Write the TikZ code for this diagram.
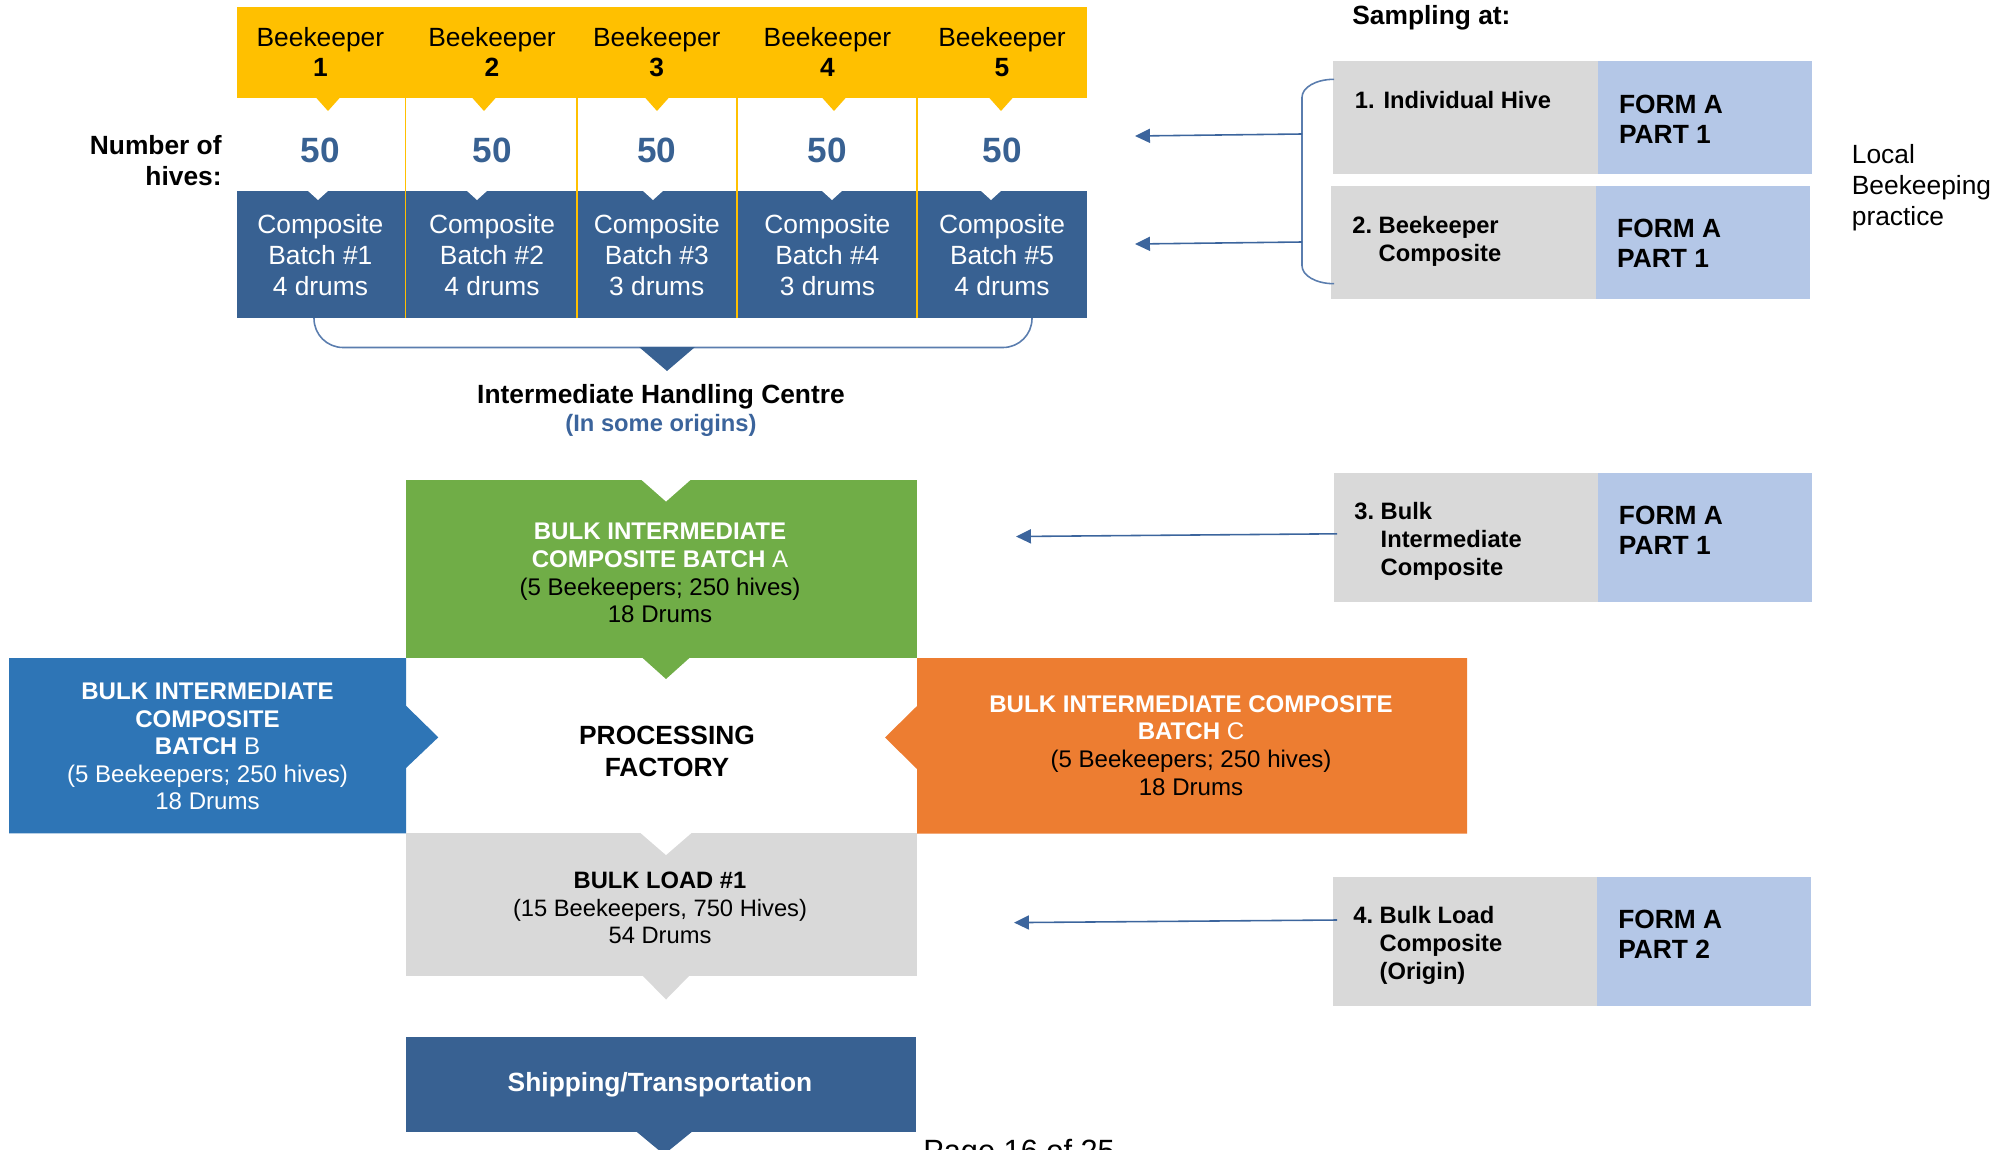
\documentclass[tikz,border=0pt]{standalone}
\usepackage{fontspec}
\setmainfont{Liberation Sans}
\usetikzlibrary{arrows.meta}
\definecolor{yel}{HTML}{FFC000}
\definecolor{dblue}{HTML}{386192}
\definecolor{grn}{HTML}{70AD47}
\definecolor{bblue}{HTML}{2E75B6}
\definecolor{orng}{HTML}{ED7D31}
\definecolor{lgray}{HTML}{D9D9D9}
\definecolor{lblue}{HTML}{B4C7E7}
\definecolor{brc}{HTML}{5A7DAE}
\definecolor{arrc}{HTML}{3C659D}
\definecolor{ltxt}{HTML}{3B649C}
\newcommand\myfs[2]{\fontsize{#1}{#2}\selectfont}
\begin{document}
\begin{tikzpicture}[x=0.02cm,y=-0.02cm,
  t/.style={inner sep=0pt, align=center},
  tw/.style={inner sep=0pt, anchor=west, align=left},
  samparrow/.style={draw=arrc, line width=0.9pt, -{Triangle[length=8.5pt,width=8pt]}},
  bracestyle/.style={draw=brc, line width=0.9pt}]
\useasboundingbox (0,0) rectangle (2013,1149);

% ---------- top banner ----------
\fill[yel] (237,7) rectangle (1087,98);
\foreach \c in {328,484,657,834,1001}
  \fill[yel] (\c-12.5,97) -- (\c+12.5,97) -- (\c,111) -- cycle;
\fill[dblue] (237,191) rectangle (1087,318);
\foreach \c in {318,477,653,832,991}
  \fill[white] (\c-11,190) -- (\c+11,190) -- (\c,200) -- cycle;
\foreach \x in {405.5,577,737,917}
  \draw[yel, line width=0.8pt] (\x,98) -- (\x,318);

\node[t, font=\myfs{15}{17.1}] (bk1) at (320.4,51.7) {Beekeeper\\\textbf{1}};
\node[t, font=\myfs{15}{17.1}] (bk2) at (492,51.7) {Beekeeper\\\textbf{2}};
\node[t, font=\myfs{15}{17.1}] (bk3) at (656.8,51.7) {Beekeeper\\\textbf{3}};
\node[t, font=\myfs{15}{17.1}] (bk4) at (827.4,51.7) {Beekeeper\\\textbf{4}};
\node[t, font=\myfs{15}{17.1}] (bk5) at (1002,51.7) {Beekeeper\\\textbf{5}};

\node[t, align=right, anchor=east, font=\bfseries\myfs{15}{17.6}] (noh) at (222,161) {Number of\\hives:};
\node[t, font=\bfseries\myfs{20}{24}, text=dblue] (h1) at (320.4,150) {50};
\node[t, font=\bfseries\myfs{20}{24}, text=dblue] (h2) at (492,150) {50};
\node[t, font=\bfseries\myfs{20}{24}, text=dblue] (h3) at (656.8,150) {50};
\node[t, font=\bfseries\myfs{20}{24}, text=dblue] (h4) at (827.4,150) {50};
\node[t, font=\bfseries\myfs{20}{24}, text=dblue] (h5) at (1002,150) {50};

\node[t, text=white, font=\myfs{15}{17.5}] (cb1) at (320.4,255) {Composite\\Batch \#1\\4 drums};
\node[t, text=white, font=\myfs{15}{17.5}] (cb2) at (492,255) {Composite\\Batch \#2\\4 drums};
\node[t, text=white, font=\myfs{15}{17.5}] (cb3) at (656.8,255) {Composite\\Batch \#3\\3 drums};
\node[t, text=white, font=\myfs{15}{17.5}] (cb4) at (827.4,255) {Composite\\Batch \#4\\3 drums};
\node[t, text=white, font=\myfs{15}{17.5}] (cb5) at (1002,255) {Composite\\Batch \#5\\4 drums};

% brace and pointer
\draw[bracestyle, rounded corners=0.58cm] (314,318) -- (314,347.5) -- (1032,347.5) -- (1032,318);
\fill[dblue] (639,347) -- (695,347) -- (667,371) -- cycle;
\node[t, font=\bfseries\myfs{15}{18}] (ihc) at (661,397) {Intermediate Handling Centre};
\node[t, font=\bfseries\myfs{13.5}{16}, text=ltxt] (iso) at (661,425) {(In some origins)};

% ---------- batch A (green) ----------
\fill[grn] (405.5,480) rectangle (917,658);
\fill[white] (640.5,479) -- (691.5,479) -- (666,501.5) -- cycle;
\fill[grn] (641.5,657) -- (690.5,657) -- (666,679) -- cycle;
\node[t, font=\myfs{13.7}{15.8}] (ba) at (660,573)
  {{\color{white}\bfseries BULK INTERMEDIATE}\\
   {\color{white}\textbf{COMPOSITE BATCH} A}\\
   (5 Beekeepers; 250 hives)\\18 Drums};

% ---------- batch B (blue) ----------
\fill[bblue] (9,658) -- (406,658) -- (406,705.7) -- (438.3,737.3) -- (406,768) -- (406,833.4) -- (9,833.4) -- cycle;
\node[t, text=white, font=\myfs{13.7}{15.6}] (bb) at (207.5,746.5)
  {{\bfseries BULK INTERMEDIATE}\\
   {\bfseries COMPOSITE}\\
   \textbf{BATCH} B\\
   (5 Beekeepers; 250 hives)\\18 Drums};

% ---------- batch C (orange) ----------
\fill[orng] (917,658) -- (1467,658) -- (1467,833.5) -- (917,833.5) -- (917,769) -- (885,737.5) -- (917,706) -- cycle;
\node[t, font=\myfs{13.7}{15.8}] (bc) at (1191,745.5)
  {{\color{white}\bfseries BULK INTERMEDIATE COMPOSITE}\\
   {\color{white}\textbf{BATCH} C}\\
   (5 Beekeepers; 250 hives)\\18 Drums};

\node[t, font=\bfseries\myfs{15}{18.2}] (pf) at (667,751) {PROCESSING\\FACTORY};

% ---------- bulk load ----------
\fill[lgray] (405.5,833.4) rectangle (917,976);
\fill[white] (640,832.5) -- (692,832.5) -- (666,855) -- cycle;
\fill[lgray] (642,975) -- (690,975) -- (666,999.5) -- cycle;
\node[t, font=\myfs{13.5}{15.8}] (bl) at (660,908)
  {\textbf{BULK LOAD \#1}\\(15 Beekeepers, 750 Hives)\\54 Drums};

% ---------- shipping ----------
\fill[dblue] (405.5,1037) rectangle (916,1132);
\fill[dblue] (635.7,1131) -- (692.9,1131) -- (664,1154.5) -- cycle;
\node[t, text=white, font=\bfseries\myfs{15}{18}] (ship) at (660,1085) {Shipping/Transportation};
\node[inner sep=0pt, anchor=base west, font=\myfs{17.5}{20}] (pg) at (923,1161.5) {Page 16 of 25};

% ---------- sampling side ----------
\node[tw, font=\bfseries\myfs{15}{18}] (samp) at (1352,18) {Sampling at:};

\fill[lgray] (1333,61) rectangle (1597.6,174);
\fill[lblue] (1597.6,61) rectangle (1812,174);
\node[tw, font=\bfseries\myfs{13.5}{15.9}] (s1) at (1354.6,100.5) {1. Individual Hive};
\node[tw, font=\bfseries\myfs{15}{17.3}] (f1) at (1618.7,119.5) {FORM A\\PART 1};

\fill[lgray] (1331,186) rectangle (1596,298.7);
\fill[lblue] (1596,186) rectangle (1810,298.7);
\node[tw, font=\bfseries\myfs{13.5}{15.9}] (s2) at (1352,242)
  {\begin{tabular}{@{}l@{\ }l@{}}2. & Beekeeper\\ & Composite\end{tabular}};
\node[tw, font=\bfseries\myfs{15}{17.3}] (f2) at (1616.8,243.5) {FORM A\\PART 1};

\fill[lgray] (1334,473) rectangle (1597.5,602);
\fill[lblue] (1597.5,473) rectangle (1812,602);
\node[tw, font=\bfseries\myfs{13.5}{15.9}] (s3) at (1354,541.5)
  {\begin{tabular}{@{}l@{\ }l@{}}3. & Bulk\\ & Intermediate\\ & Composite\end{tabular}};
\node[tw, font=\bfseries\myfs{15}{17.3}] (f3) at (1618.6,530) {FORM A\\PART 1};

\fill[lgray] (1333,877) rectangle (1597,1005.7);
\fill[lblue] (1597,877) rectangle (1810.7,1005.7);
\node[tw, font=\bfseries\myfs{13.5}{15.9}] (s4) at (1353,945.5)
  {\begin{tabular}{@{}l@{\ }l@{}}4. & Bulk Load\\ & Composite\\ & (Origin)\end{tabular}};
\node[tw, font=\bfseries\myfs{15}{17.3}] (f4) at (1617.9,934.5) {FORM A\\PART 2};

\node[tw, font=\myfs{15}{17.6}] (lbp) at (1851.5,187.5) {Local\\Beekeeping\\practice};

% bracket for sampling points 1-2
\draw[bracestyle] (1334,79.3) .. controls (1316,79.3) and (1302,87.4) .. (1302,97.3)
  -- (1302,265.7) .. controls (1302,275.6) and (1316,283.7) .. (1334,283.7);

\coordinate (br1) at (1302,134);
\coordinate (br2) at (1302,242);
\coordinate (t1) at (1135,136);
\coordinate (t2) at (1135,244);
\coordinate (a3) at (1337,533.8);
\coordinate (t3) at (1016,536.5);
\coordinate (a4) at (1337,920);
\coordinate (t4) at (1014,922.6);
\draw[samparrow] (br1) -- (t1);
\draw[samparrow] (br2) -- (t2);
\draw[samparrow] (a3) -- (t3);
\draw[samparrow] (a4) -- (t4);
\end{tikzpicture}
\end{document}
